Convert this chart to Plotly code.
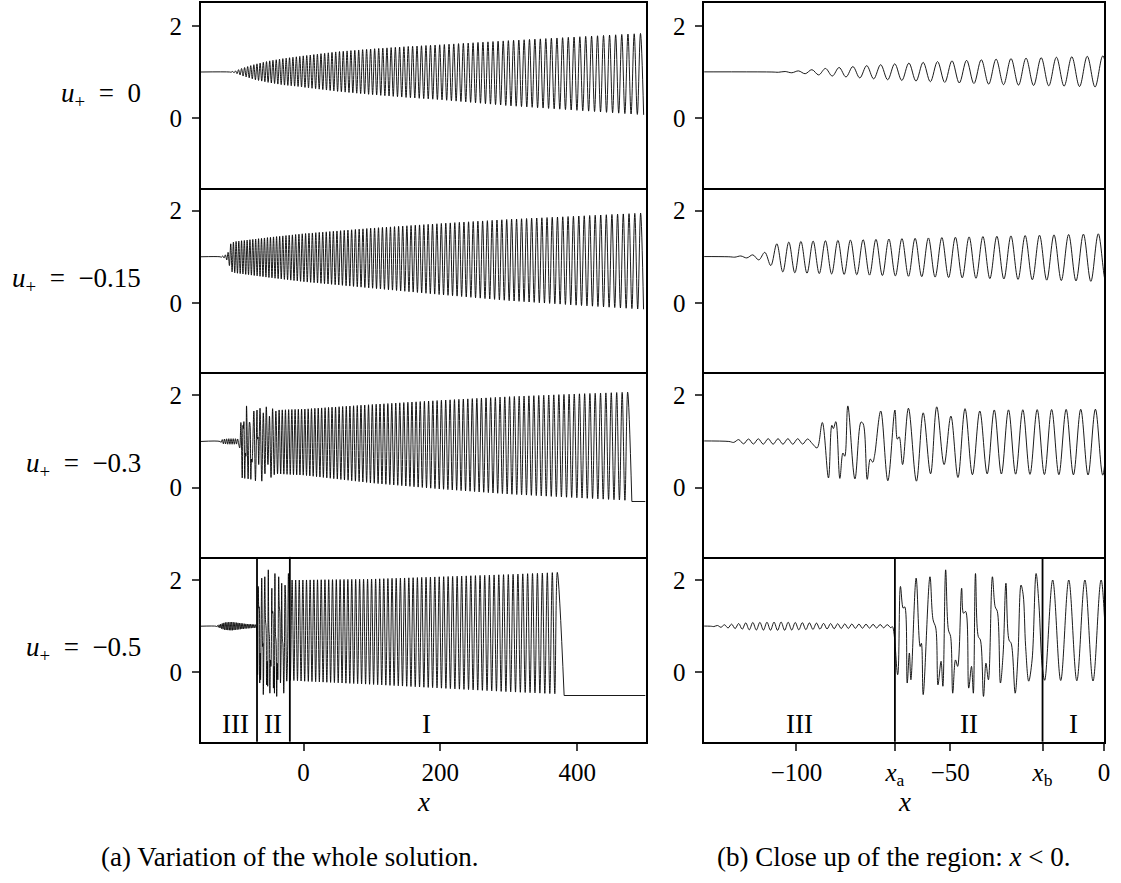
import numpy as np
import plotly.graph_objects as go
from plotly.subplots import make_subplots

# ---------------- data ----------------
ROW_LABELS = ["<i>u</i><sub>+</sub>&nbsp; = &nbsp;0", "<i>u</i><sub>+</sub>&nbsp; = &nbsp;−0.15",
              "<i>u</i><sub>+</sub>&nbsp; = &nbsp;−0.3", "<i>u</i><sub>+</sub>&nbsp; = &nbsp;−0.5"]
U_PLUS = [0.0, -0.15, -0.3, -0.5]
X_A = -68
X_B = -20

# u+ = 0 : envelope and local wavelength
A_env_x = [-108, -100, -90, -70, -50, -30, -10, 0, 50, 100, 150, 200, 300, 400, 500]
A_hi = [1.0, 1.02, 1.08, 1.17, 1.24, 1.29, 1.33, 1.35, 1.44, 1.5, 1.55, 1.59, 1.68, 1.76, 1.84]
A_lo = [1.0, 0.98, 0.92, 0.83, 0.77, 0.72, 0.69, 0.67, 0.58, 0.51, 0.45, 0.40, 0.27, 0.17, 0.07]
A_wl_x = [-108, 0, 100, 200, 300, 400, 500]
A_wl = [4.3, 5.1, 5.9, 6.8, 7.6, 8.5, 9.3]

# u+ = -0.15
B_env_x = [-122, -115, -110, -106, -100, -50, 0, 100, 200, 300, 400, 500]
B_hi = [1.0, 1.03, 1.1, 1.3, 1.33, 1.42, 1.5, 1.62, 1.72, 1.81, 1.88, 1.95]
B_lo = [1.0, 0.97, 0.9, 0.68, 0.65, 0.55, 0.46, 0.32, 0.18, 0.05, -0.05, -0.14]
B_wl_x = [-122, -105, 0, 100, 200, 300, 400, 500]
B_wl = [3.9, 3.9, 4.9, 5.7, 6.5, 7.2, 7.9, 8.6]

# u+ = -0.3 : small ripples, irregular zone, regular train, front at x=478
C_rip_x = [-122, -118, -110, -100, -94]
C_rip_a = [0.0, 0.05, 0.06, 0.06, 0.05]
C_rip_wl = 3.2
C_mid_x = [-93.3, -91.6, -89.6, -88.5, -88.0, -87.2, -85.9, -84.9, -84.3, -83.3, -81.0,
           -79.0, -78.3, -77.0, -76.0, -75.2, -74.6, -72.6, -70.3, -68.0, -67.2, -66.6,
           -65.5, -63.6, -61.0, -58.8, -56.4, -54.4, -52.0, -49.8, -47.5, -45.2, -42.8, -40.4]
C_mid_y = [0.86, 1.41, 0.21, 1.35, 1.28, 1.43, 0.20, 0.75, 0.68, 1.77, 0.19,
           1.42, 1.38, 0.18, 0.62, 0.55, 0.70, 1.66, 0.15, 1.68, 1.05, 1.10,
           0.50, 1.72, 0.14, 1.62, 0.30, 1.75, 0.50, 1.55, 0.22, 1.71, 0.28, 1.66]
C_env_x = [-40, 0, 100, 200, 300, 400, 478]
C_hi = [1.68, 1.70, 1.80, 1.89, 1.97, 2.03, 2.07]
C_lo = [0.30, 0.27, 0.10, -0.03, -0.14, -0.22, -0.28]
C_wl_x = [-40, 0, 100, 200, 300, 400, 478]
C_wl = [4.6, 4.8, 5.6, 6.3, 7.0, 7.6, 8.1]
C_front = 478

# u+ = -0.5
D_rip_x = [-128, -122, -115, -105, -95, -85, -75, -68]
D_rip_a = [0.0, 0.04, 0.08, 0.09, 0.07, 0.05, 0.04, 0.03]
D_rip_wl = 2.3
D_mid_x = [-68.8, -67.1, -66.2, -65.3, -64.8, -64.0, -63.3, -62.8, -61.1, -59.8, -59.4,
           -58.8, -56.6, -55.6, -54.7, -54.0, -53.0, -52.4, -51.5, -50.6, -49.9, -49.2,
           -48.3, -47.6, -46.3, -45.7, -45.0, -44.0, -43.1, -42.5, -41.8, -40.9, -40.2,
           -39.2, -38.4, -37.6, -36.3, -35.4, -34.7, -33.7, -32.8, -31.9, -30.9, -30.2,
           -28.9, -28.0, -27.0, -26.3, -25.5, -24.5, -23.4, -22.1, -21.2, -20.1]
D_mid_y = [0.99, -0.05, 1.86, 1.39, 1.42, -0.23, 0.42, -0.16, 2.04, 0.56, 0.63,
           -0.48, 2.07, 1.14, 0.96, -0.27, 0.24, -0.30, 2.22, 0.92, 0.78, -0.45,
           0.27, 0.13, 1.82, 1.28, 1.32, -0.34, 0.13, -0.45, 2.14, 0.78, 0.70,
           -0.52, 0.20, -0.16, 2.07, 1.42, 1.32, -0.23, 0.42, 1.93, 0.70, 0.63,
           -0.45, 0.35, 1.89, 1.68, 0.56, -0.19, 0.27, 2.14, 1.50, 0.13]
D_env_x = [-20, 0, 100, 200, 300, 380]
D_hi = [2.0, 2.0, 2.02, 2.07, 2.12, 2.17]
D_lo = [-0.17, -0.19, -0.26, -0.34, -0.42, -0.47]
D_wl_x = [-20, 0, 100, 200, 300, 380]
D_wl = [5.2, 5.3, 5.9, 6.5, 7.0, 7.4]
D_front = 378

X_LEFT = [-150, 500]
X_RIGHT = [-130, 0]
Y_RANGE = [-1.5, 2.5]


# ---------------- build extrema sequences ----------------
def extrema(x0, x1, wl_x, wl_v, ex, hi, lo, peak=True):
    xs, ys = [], []
    x = x0
    while x <= x1:
        xs.append(x)
        ys.append(float(np.interp(x, ex, hi if peak else lo)))
        x += float(np.interp(x, wl_x, wl_v)) / 2.0
        peak = not peak
    return xs, ys


def ripple(x0, x1, rx, ra, wl):
    hi = [1 + a for a in ra]
    lo = [1 - a for a in ra]
    return extrema(x0, x1, [x0, x1], [wl, wl], rx, hi, lo)


waves, tails = [], []
# A
xs, ys = extrema(-108, 501, A_wl_x, A_wl, A_env_x, A_hi, A_lo)
waves.append(([-150] + xs, [1.0] + ys)); tails.append(None)
# B
xs, ys = extrema(-122, 501, B_wl_x, B_wl, B_env_x, B_hi, B_lo)
waves.append(([-150] + xs, [1.0] + ys)); tails.append(None)
# C
rx, ry = ripple(-122, -94, C_rip_x, C_rip_a, C_rip_wl)
gx, gy = extrema(-38, C_front, C_wl_x, C_wl, C_env_x, C_hi, C_lo, peak=False)
if len(gy) % 2 == 1:
    gx, gy = gx[:-1], gy[:-1]
waves.append(([-150] + rx + C_mid_x + gx + [C_front + 2],
              [1.0] + ry + C_mid_y + gy + [U_PLUS[2]]))
tails.append(([C_front + 2, 500], [U_PLUS[2], U_PLUS[2]]))
# D
rx, ry = ripple(-128, -69, D_rip_x, D_rip_a, D_rip_wl)
gx, gy = extrema(-19.3, D_front, D_wl_x, D_wl, D_env_x, D_hi, D_lo, peak=False)
if len(gy) % 2 == 1:
    gx, gy = gx[:-1], gy[:-1]
waves.append(([-150] + rx + D_mid_x + gx + [D_front + 3],
              [1.0] + ry + D_mid_y + gy + [U_PLUS[3]]))
tails.append(([D_front + 3, 500], [U_PLUS[3], U_PLUS[3]]))

# ---------------- figure ----------------
W, H = 1121, 883
fig = make_subplots(rows=4, cols=2)
FONT = "Liberation Serif"
TXT = dict(family=FONT, size=27, color="black")
TICK = dict(family=FONT, size=25, color="black")

xdom_l = [202 / W, 649 / W]
xdom_r = [708 / W, 1110 / W]
edges = [2.7, 187.5, 372.2, 556.9, 741.7]

for r in range(4):
    sx, sy = waves[r]
    for c in range(2):
        fig.add_trace(go.Scatter(x=sx, y=sy, mode="lines",
                                 line=dict(color="black", width=0.9, shape="spline", smoothing=1),
                                 showlegend=False, hoverinfo="skip"),
                      row=r + 1, col=c + 1)
        if tails[r] is not None:
            fig.add_trace(go.Scatter(x=tails[r][0], y=tails[r][1], mode="lines",
                                     line=dict(color="black", width=0.9),
                                     showlegend=False, hoverinfo="skip"),
                          row=r + 1, col=c + 1)
        idx = r * 2 + c + 1
        xa = "xaxis" if idx == 1 else f"xaxis{idx}"
        ya = "yaxis" if idx == 1 else f"yaxis{idx}"
        bottom = r == 3
        xcfg = dict(domain=xdom_l if c == 0 else xdom_r,
                    range=X_LEFT if c == 0 else X_RIGHT,
                    showline=True, mirror=(r == 0), linecolor="black", linewidth=1.6,
                    showgrid=False, zeroline=False,
                    ticks="outside" if bottom else "", ticklen=7, tickwidth=1.5,
                    showticklabels=bottom, ticklabelstandoff=0,
                    tickfont=TICK)
        if c == 0:
            xcfg.update(tickvals=[0, 200, 400], ticktext=["0", "200", "400"])
        else:
            xcfg.update(tickvals=[-100, X_A, -50, X_B, 0],
                        ticktext=["−100", "<i>x</i><sub>a</sub>", "−50", "<i>x</i><sub>b</sub>", "0"])
        ycfg = dict(domain=[1 - edges[r + 1] / H, 1 - edges[r] / H],
                    range=Y_RANGE, tickvals=[0, 2], ticktext=["0", "2"],
                    showline=True, mirror=True, linecolor="black", linewidth=1.6,
                    showgrid=False, zeroline=False, ticks="outside", ticklen=7, tickwidth=1.5,
                    ticklabelstandoff=5, tickfont=TICK)
        fig.layout[xa].update(xcfg)
        fig.layout[ya].update(ycfg)

# region boundaries and labels in the bottom row
for ax, xs_lab in (("7", [(-99, "III"), (-44, "II"), (180, "I")]),
                   ("8", [(-99, "III"), (-44, "II"), (-10, "I")])):
    for xv in (X_A, X_B):
        fig.add_shape(type="line", xref=f"x{ax}", yref=f"y{ax} domain", x0=xv, x1=xv, y0=0, y1=1,
                      line=dict(color="black", width=1.8))
    for xv, t in xs_lab:
        fig.add_annotation(x=xv, y=-1.12, xref=f"x{ax}", yref=f"y{ax}", text=t, showarrow=False,
                           xanchor="center", yanchor="middle", font=TXT)

# row labels
for r in range(4):
    yc = 1 - (edges[r] + edges[r + 1]) / 2 / H
    fig.add_annotation(x=144 / W, y=yc, xref="paper", yref="paper", text=ROW_LABELS[r],
                       showarrow=False, xanchor="right", yanchor="middle", font=TXT)

# axis titles and captions
for xc in ((202 + 649) / 2 / W, (708 + 1110) / 2 / W):
    fig.add_annotation(x=xc, y=1 - 802 / H, xref="paper", yref="paper", text="<i>x</i>",
                       showarrow=False, xanchor="center", yanchor="middle", font=TXT)
fig.add_annotation(x=291 / W, y=1 - 857 / H, xref="paper", yref="paper",
                   text="(a) Variation of the whole solution.", showarrow=False,
                   xanchor="center", yanchor="middle", font=TXT)
fig.add_annotation(x=898 / W, y=1 - 857 / H, xref="paper", yref="paper",
                   text="(b) Close up of the region: <i>x</i> &lt; 0.", showarrow=False,
                   xanchor="center", yanchor="middle", font=TXT)

fig.update_layout(width=W, height=H, margin=dict(l=0, r=0, t=0, b=0),
                  paper_bgcolor="white", plot_bgcolor="white", showlegend=False)

fig.write_html("out.html")
